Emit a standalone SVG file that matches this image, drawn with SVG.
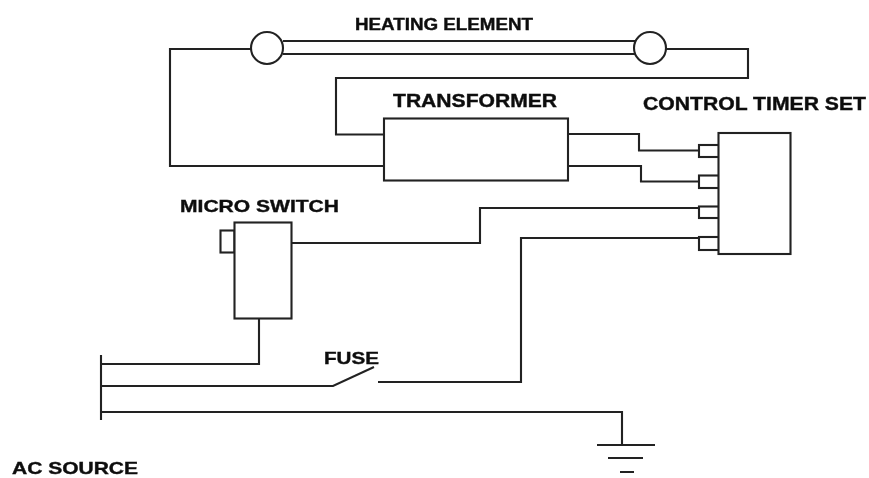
<svg xmlns="http://www.w3.org/2000/svg" width="869" height="478" viewBox="0 0 869 478">
<style>
.s{fill:none;stroke:#222;stroke-width:2.100;stroke-linejoin:miter}
.b{fill:#fff;stroke:#222;stroke-width:2.100}
.t{font-family:"Liberation Sans",Arial,sans-serif;font-weight:bold;fill:#111;stroke:#111;stroke-width:0.400}
</style>
<defs><filter id="soft" x="-2%" y="-2%" width="104%" height="104%"><feGaussianBlur stdDeviation="0.7"/></filter></defs>
<rect width="869" height="478" fill="#fff"/>
<g filter="url(#soft)">
<g id="connectors">
<path class="s" d="M283 41H637M283 54H637"/>
<path class="s" d="M252 49H170V166H384"/>
<path class="s" d="M666 49H748V78H336V134.500H384"/>
<path class="s" d="M568 134H639V150.500H699"/>
<path class="s" d="M568 166H641V181.500H699"/>
<path class="s" d="M291 243H480V208H699"/>
<path class="s" d="M378 382H521V238H699"/>
<path class="s" d="M259 318V364H101"/>
<path class="s" d="M101 386H333L374 367"/>
<path class="s" d="M101 412H622V445"/>
<path class="s" d="M101 355V420"/>
</g>
<g id="heating-element">
<circle class="b" cx="267" cy="48" r="16"/>
<circle class="b" cx="650" cy="48" r="16"/>
<text class="t" x="355" y="30" font-size="16" textLength="178" lengthAdjust="spacingAndGlyphs">HEATING ELEMENT</text>
</g>
<g id="transformer">
<rect class="b" x="384" y="118.500" width="184" height="62"/>
<text class="t" x="393" y="107" font-size="18" textLength="164" lengthAdjust="spacingAndGlyphs">TRANSFORMER</text>
</g>
<g id="control-timer-set">
<rect class="b" x="699" y="145" width="20" height="12"/>
<rect class="b" x="699" y="175.500" width="20" height="12.500"/>
<rect class="b" x="699" y="206.500" width="20" height="11.500"/>
<rect class="b" x="699" y="237" width="20" height="13"/>
<rect class="b" x="718.500" y="133" width="72" height="121"/>
<text class="t" x="643" y="110" font-size="18" textLength="223" lengthAdjust="spacingAndGlyphs">CONTROL TIMER SET</text>
</g>
<g id="micro-switch">
<rect class="b" x="220.500" y="230.500" width="14" height="22"/>
<rect class="b" x="234.500" y="222.500" width="57" height="96"/>
<text class="t" x="180" y="212" font-size="17" textLength="159" lengthAdjust="spacingAndGlyphs">MICRO SWITCH</text>
</g>
<g id="fuse">
<text class="t" x="324" y="364" font-size="17" textLength="55" lengthAdjust="spacingAndGlyphs">FUSE</text>
</g>
<g id="ground">
<path class="s" d="M597 445H655M608 458H643M620 472H634"/>
</g>
<g id="ac-source">
<text class="t" x="12" y="474" font-size="17" textLength="126" lengthAdjust="spacingAndGlyphs">AC SOURCE</text>
</g>
</g>
</svg>
